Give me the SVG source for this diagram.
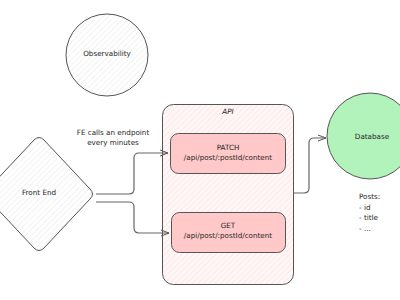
<svg xmlns="http://www.w3.org/2000/svg" width="400" height="300" viewBox="0 0 400 300">
  <defs>
    <pattern id="hatchGray" patternUnits="userSpaceOnUse" width="4" height="4" patternTransform="rotate(45)">
      <rect width="4" height="4" fill="#ffffff"/>
      <line x1="0" y1="0" x2="0" y2="4" stroke="#e6e6e6" stroke-width="1"/>
    </pattern>
    <pattern id="hatchPink" patternUnits="userSpaceOnUse" width="4" height="4" patternTransform="rotate(45)">
      <rect width="4" height="4" fill="#fff6f6"/>
      <line x1="0" y1="0" x2="0" y2="4" stroke="#fcdcdc" stroke-width="1"/>
    </pattern>
    <marker id="arrow" markerWidth="10" markerHeight="10" refX="9" refY="5" orient="auto" markerUnits="userSpaceOnUse">
      <path d="M1,2 L9,5 L1,8" fill="none" stroke="#555" stroke-width="1"/>
    </marker>
    <style>
      .shape { stroke: #555; stroke-width: 1; }
      .txt { font-family: "DejaVu Sans", "Liberation Sans", sans-serif; font-size: 7.2px; fill: #1e1e1e; text-anchor: middle; dominant-baseline: middle; }
      .lt { font-family: "DejaVu Sans", "Liberation Sans", sans-serif; font-size: 7.2px; fill: #1e1e1e; dominant-baseline: middle; }
      .conn { fill: none; stroke: #666; stroke-width: 1.2; }
    </style>
  </defs>
  <rect width="400" height="300" fill="#ffffff"/>

  <g id="observability">
    <circle class="shape" cx="107" cy="55" r="41" fill="url(#hatchGray)"/>
    <text class="txt" x="107" y="54">Observability</text>
  </g>

  <g id="frontend">
    <path class="shape" fill="url(#hatchGray)" d="M34,140 Q39,135 44,140 L90,189 Q95,194 90,199 L44,248 Q39,253 34,248 L-12,199 Q-17,194 -12,189 Z"/>
    <text class="txt" x="39" y="193">Front End</text>
  </g>

  <g id="api">
    <rect class="shape" x="162.5" y="104.5" width="131" height="180" rx="11" fill="url(#hatchPink)"/>
    <text class="txt" x="228" y="112" font-style="italic">API</text>
  </g>

  <g id="patch">
    <rect class="shape" x="170.5" y="133.5" width="115" height="40" rx="8" fill="#ffc9c9"/>
    <text class="txt" x="228" y="148">PATCH</text>
    <text class="txt" x="228" y="158">/api/post/:postId/content</text>
  </g>

  <g id="get">
    <rect class="shape" x="171.5" y="212.5" width="114" height="40" rx="8" fill="#ffc9c9"/>
    <text class="txt" x="228" y="226">GET</text>
    <text class="txt" x="228" y="236">/api/post/:postId/content</text>
  </g>

  <g id="database">
    <circle class="shape" cx="370" cy="136" r="43" fill="#b2f2bb"/>
    <text class="txt" x="372" y="137">Database</text>
  </g>

  <g id="posts">
    <text class="lt" x="359" y="197">Posts:</text>
    <text class="lt" x="359" y="208">- id</text>
    <text class="lt" x="359" y="218">- title</text>
    <text class="lt" x="359" y="229">- ...</text>
  </g>

  <g id="connectors">
    <path class="conn" d="M96,194 L129,194 Q134,194 134,189 L134,158 Q134,153 139,153 L168,153" marker-end="url(#arrow)"/>
    <path class="conn" d="M96,202 L129,202 Q134,202 134,207 L134,228 Q134,233 139,233 L169,233" marker-end="url(#arrow)"/>
    <path class="conn" d="M294,193 L304,193 Q309,193 309,188 L309,143 Q309,138 314,138 L326,138" marker-end="url(#arrow)"/>
    <text class="txt" x="113" y="133">FE calls an endpoint</text>
    <text class="txt" x="113" y="143">every minutes</text>
  </g>
</svg>
